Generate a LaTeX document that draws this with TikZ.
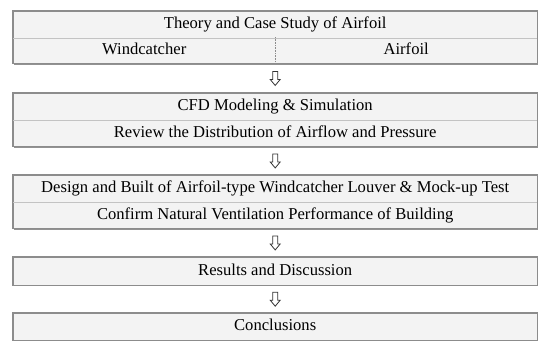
\documentclass[tikz,border=0pt]{standalone}
\usepackage{fontspec}
\setmainfont{Liberation Serif}
\usetikzlibrary{shapes,positioning,fit,backgrounds,shadows,calc}
\definecolor{colFill}{RGB}{243,243,243}
\definecolor{colFrame}{RGB}{140,140,140}
\definecolor{colRule}{RGB}{195,195,195}
\definecolor{colShade}{RGB}{100,100,100}

\tikzset{
    hollowdown/.pic={
        \draw[black!80, fill=white, line width=0.8pt, line join=miter]
            (-2.5,-7) -- (2.5,-7) -- (2.5,1) -- (5,1) -- (0,7)
            -- (-5,1) -- (-2.5,1) -- cycle;
    }
}

\begin{document}
\begin{tikzpicture}[
    x=1pt, y=-1pt,
    every node/.style={font=\fontsize{16.6}{19}\selectfont},
    row/.style={minimum width=524pt, minimum height=26.5pt, inner sep=0pt,
        text height=11pt, text depth=3pt, anchor=north west},
    frame/.style={draw=colFrame, fill=colFill, line width=1.1pt, inner sep=0pt,
        drop shadow={shadow xshift=0.9pt, shadow yshift=-0.9pt, fill=colShade, opacity=0.7}}
]
    \useasboundingbox (0,0) rectangle (550,349);

    % rows of text
    \node[row] (theory) at (13,11) {Theory and Case Study of Airfoil};
    \node[row, minimum width=262pt] (wind) at (13,37) {Windcatcher};
    \node[row, minimum width=262pt] (foil) at (275,37) {Airfoil};
    \node[row] (cfd) at (13,93) {CFD Modeling \& Simulation};
    \node[row] (review) at (13,120) {Review the Distribution of Airflow and Pressure};
    \node[row] (design) at (13,175) {Design and Built of Airfoil-type Windcatcher Louver \& Mock-up Test};
    \node[row] (confirm) at (13,202) {Confirm Natural Ventilation Performance of Building};
    \node[row, minimum height=28pt] (results) at (13,257) {Results and Discussion};
    \node[row, minimum height=27pt] (concl) at (13,313) {Conclusions};

    % outer boxes
    \begin{scope}[on background layer]
        \node[frame, fit=(theory)(wind)(foil)] (B1) {};
        \node[frame, fit=(cfd)(review)] (B2) {};
        \node[frame, fit=(design)(confirm)] (B3) {};
        \node[frame, fit=(results)] (B4) {};
        \node[frame, fit=(concl)] (B5) {};
    \end{scope}

    % inner rules
    \draw[colRule, line width=0.8pt] (theory.south west) -- (theory.south east);
    \draw[colRule, line width=0.8pt] (cfd.south west) -- (cfd.south east);
    \draw[colRule, line width=0.8pt] (design.south west) -- (design.south east);
    \draw[colFrame, line width=0.6pt, densely dotted] (wind.north east) -- (wind.south east);

    % hollow arrows between boxes
    \coordinate (A1) at ($(B1.south)!0.5!(B2.north)$);
    \coordinate (A2) at ($(B2.south)!0.5!(B3.north)$);
    \coordinate (A3) at ($(B3.south)!0.5!(B4.north)$);
    \coordinate (A4) at ($(B4.south)!0.5!(B5.north)$);
    \foreach \a in {A1,A2,A3,A4} {
        \pic at (\a) {hollowdown};
    }
\end{tikzpicture}
\end{document}
